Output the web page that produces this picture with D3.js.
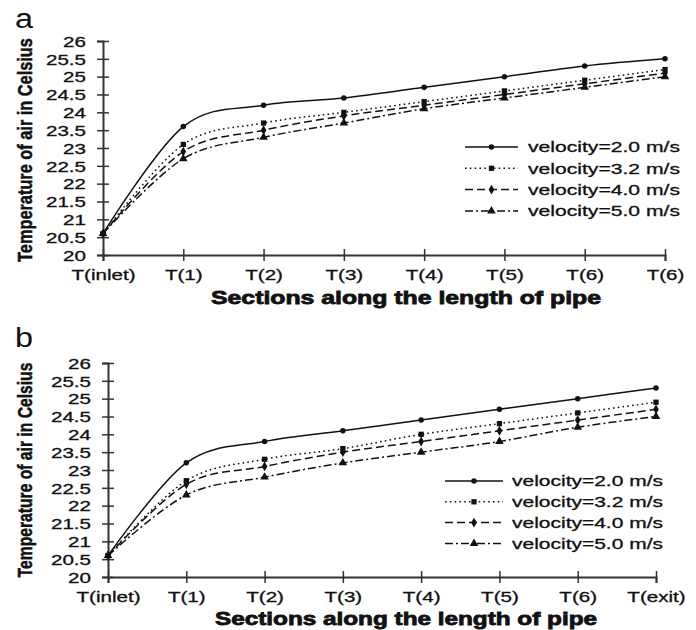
<!DOCTYPE html>
<html>
<head>
<meta charset="utf-8">
<script src="https://cdn.jsdelivr.net/npm/d3@7/dist/d3.min.js"></script>
<style>
  html, body { margin: 0; padding: 0; background: #fff; }
  svg { display: block; }
  text { font-family: "Liberation Sans", Arial, sans-serif; fill: #111; }
</style>
</head>
<body>
<svg id="chart" width="696" height="630"></svg>
<script>
// ---------- data ----------
const categoriesA = ["T(inlet)", "T(1)", "T(2)", "T(3)", "T(4)", "T(5)", "T(6)", "T(6) "];
const categoriesB = ["T(inlet)", "T(1)", "T(2)", "T(3)", "T(4)", "T(5)", "T(6)", "T(exit)"];
const seriesNames = ["velocity=2.0 m/s", "velocity=3.2 m/s", "velocity=4.0 m/s", "velocity=5.0 m/s"];
const yTicks = [20, 20.5, 21, 21.5, 22, 22.5, 23, 23.5, 24, 24.5, 25, 25.5, 26];

const panelA_v20 = [20.6, 23.6, 24.2, 24.4, 24.7, 25.0, 25.3, 25.5];
const panelA_v32 = [20.6, 23.1, 23.7, 24.0, 24.3, 24.6, 24.9, 25.2];
const panelA_v40 = [20.6, 22.9, 23.5, 23.9, 24.2, 24.5, 24.8, 25.1];
const panelA_v50 = [20.6, 22.7, 23.3, 23.7, 24.1, 24.4, 24.7, 25.0];

const panelB_v20 = [20.6, 23.2, 23.8, 24.1, 24.4, 24.7, 25.0, 25.3];
const panelB_v32 = [20.6, 22.7, 23.3, 23.6, 24.0, 24.3, 24.6, 24.9];
const panelB_v40 = [20.6, 22.6, 23.1, 23.5, 23.8, 24.1, 24.4, 24.7];
const panelB_v50 = [20.6, 22.3, 22.8, 23.2, 23.5, 23.8, 24.2, 24.5];

const yTitle = "Temperature of air in  Celsius";
const xTitle = "Sections along the length of pipe";

// ---------- styles ----------
const dashes = [null, "1.6,3.2", "8,4", "8,3,2,3"];
const markerTypes = [d3.symbolCircle, d3.symbolSquare, d3.symbolDiamond, d3.symbolTriangle];
const markerSizes = [24, 28, 28, 32];

const svg = d3.select("#chart");
svg.append("rect").attr("width", 696).attr("height", 630).attr("fill", "#fff");

function stretch(sel, factor) {
  sel.each(function () {
    const w = this.getComputedTextLength();
    d3.select(this).attr("textLength", w * factor).attr("lengthAdjust", "spacingAndGlyphs");
  });
}

function drawPanel(cfg) {
  const g = svg.append("g");
  const x = d3.scalePoint().domain(cfg.categories).range([cfg.x0, cfg.x1]);
  const y = d3.scaleLinear().domain([20, 26]).range([cfg.y0, cfg.y1]);

  // panel letter
  g.append("text").attr("x", 15).attr("y", cfg.letterY)
    .style("font-size", "27px").text(cfg.letter)
    .call(stretch, 1.2);

  // y axis
  const ya = g.append("g").attr("transform", `translate(${cfg.x0},0)`)
    .call(d3.axisLeft(y).tickValues(yTicks).tickSize(6).tickPadding(11).tickFormat(d => d));
  ya.select(".domain").attr("stroke", "#333").attr("stroke-width", 2);
  ya.selectAll(".tick line").attr("x1", 6).attr("x2", -6).attr("stroke", "#333").attr("stroke-width", 1.5);
  ya.selectAll(".tick text").style("font-size", "14.5px").style("font-family", "Liberation Sans, Arial, sans-serif")
    .attr("fill", "#111").attr("stroke", "#111").attr("stroke-width", 0.3)
    .attr("dy", "0.36em").call(stretch, 1.42);

  // x axis
  const xa = g.append("g").attr("transform", `translate(0,${cfg.y0})`)
    .call(d3.axisBottom(x).tickSize(6).tickPadding(9));
  xa.select(".domain").attr("stroke", "#333").attr("stroke-width", 2);
  xa.selectAll(".tick line").attr("y1", -6).attr("y2", 6).attr("stroke", "#333").attr("stroke-width", 1.5);
  xa.selectAll(".tick text").style("font-size", "14.5px").style("font-family", "Liberation Sans, Arial, sans-serif")
    .attr("fill", "#111").attr("stroke", "#111").attr("stroke-width", 0.3)
    .call(stretch, 1.42);

  // y axis title (condensed via scale transform)
  const yt = g.append("text")
    .attr("text-anchor", "middle")
    .style("font-size", "21px").style("font-weight", "bold")
    .style("font-family", "'Liberation Sans Narrow', 'Arial Narrow', 'Liberation Sans', sans-serif")
    .attr("stroke", "#111").attr("stroke-width", 0.5)
    .text(yTitle);
  const ytw = yt.node().getComputedTextLength();
  yt.attr("transform", `translate(${cfg.yTitleX},${cfg.yTitleY}) rotate(-90) scale(${cfg.yTitleLen / ytw},1)`);

  g.append("text")
    .attr("x", cfg.xTitleX).attr("y", cfg.xTitleY)
    .attr("text-anchor", "middle")
    .style("font-size", "18.5px").style("font-weight", "bold")
    .attr("stroke", "#111").attr("stroke-width", 0.8)
    .attr("textLength", cfg.xTitleLen).attr("lengthAdjust", "spacingAndGlyphs")
    .text(xTitle);

  // lines
  const line = d3.line()
    .x((d, i) => x(cfg.categories[i]))
    .y(d => y(d))
    .curve(d3.curveCardinal.tension(0));

  cfg.series.forEach((vals, si) => {
    g.append("path").datum(vals)
      .attr("d", line)
      .attr("fill", "none").attr("stroke", "#111").attr("stroke-width", 1.5)
      .attr("stroke-dasharray", dashes[si]);
    g.selectAll(null).data(vals).enter().append("path")
      .attr("transform", (d, i) => `translate(${x(cfg.categories[i])},${y(d)})`)
      .attr("d", d3.symbol().type(markerTypes[si]).size(markerSizes[si]))
      .attr("fill", "#111");
  });

  // legend
  const lg = g.append("g");
  seriesNames.forEach((name, si) => {
    const ly = cfg.legY + si * cfg.legStep;
    lg.append("line").attr("x1", cfg.legX0).attr("x2", cfg.legX1).attr("y1", ly).attr("y2", ly)
      .attr("stroke", "#111").attr("stroke-width", 1.5).attr("stroke-dasharray", dashes[si]);
    lg.append("path")
      .attr("transform", `translate(${(cfg.legX0 + cfg.legX1) / 2},${ly})`)
      .attr("d", d3.symbol().type(markerTypes[si]).size(markerSizes[si]))
      .attr("fill", "#111");
    lg.append("text").attr("x", cfg.legTextX).attr("y", ly).attr("dy", "0.36em")
      .style("font-size", "14.5px")
      .attr("stroke", "#111").attr("stroke-width", 0.3)
      .attr("textLength", cfg.legTextLen).attr("lengthAdjust", "spacingAndGlyphs")
      .text(name);
  });
}

drawPanel({
  letter: "a", letterY: 28,
  categories: categoriesA,
  x0: 103, x1: 665, y0: 255, y1: 41,
  series: [panelA_v20, panelA_v32, panelA_v40, panelA_v50],
  yTitleX: 32, yTitleY: 150, yTitleLen: 224,
  xTitleX: 406, xTitleY: 304, xTitleLen: 390,
  legX0: 465, legX1: 518, legTextX: 528, legTextLen: 152, legY: 147, legStep: 21.3
});

drawPanel({
  letter: "b", letterY: 347,
  categories: categoriesB,
  x0: 108, x1: 656, y0: 577, y1: 363,
  series: [panelB_v20, panelB_v32, panelB_v40, panelB_v50],
  yTitleX: 32, yTitleY: 470, yTitleLen: 215,
  xTitleX: 406, xTitleY: 625, xTitleLen: 382,
  legX0: 445, legX1: 503, legTextX: 512, legTextLen: 151, legY: 481, legStep: 20.8
});
</script>
</body>
</html>
